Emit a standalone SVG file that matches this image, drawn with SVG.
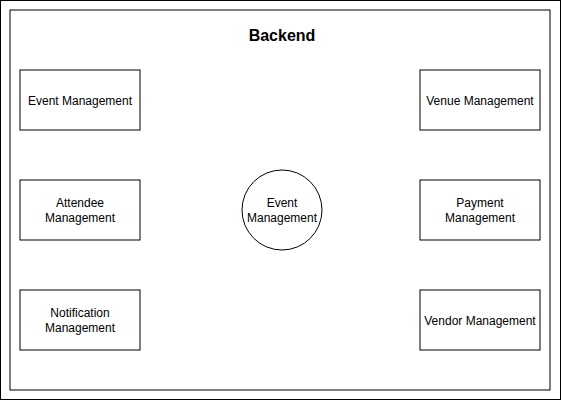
<svg xmlns="http://www.w3.org/2000/svg" width="561" height="401" viewBox="0 0 561 401">
<style>
.box{fill:#fff;stroke:#000;stroke-width:1}
.t{font-family:"Liberation Sans",Arial,sans-serif;font-size:12px;fill:#000;text-anchor:middle}
.title{font-family:"Liberation Sans",Arial,sans-serif;font-size:16px;font-weight:bold;fill:#000;text-anchor:middle}
</style>
<rect width="561" height="401" fill="#fff"/>
<g id="outer"><rect class="box" x="0.5" y="0.5" width="560" height="399"/></g>
<g id="backend"><rect class="box" x="10" y="10" width="540" height="380"/>
<text class="title" x="282" y="41">Backend</text></g>
<g id="connectors"></g>
<g id="event-mgmt"><rect class="box" x="20" y="70" width="120" height="60"/><text class="t" x="80" y="105">Event Management</text></g>
<g id="attendee-mgmt"><rect class="box" x="20" y="180" width="120" height="60"/><text class="t" x="80" y="207">Attendee</text><text class="t" x="80" y="222">Management</text></g>
<g id="notification-mgmt"><rect class="box" x="20" y="290" width="120" height="60"/><text class="t" x="80" y="317">Notification</text><text class="t" x="80" y="332">Management</text></g>
<g id="venue-mgmt"><rect class="box" x="420" y="70" width="120" height="60"/><text class="t" x="480" y="105">Venue Management</text></g>
<g id="payment-mgmt"><rect class="box" x="420" y="180" width="120" height="60"/><text class="t" x="480" y="207">Payment</text><text class="t" x="480" y="222">Management</text></g>
<g id="vendor-mgmt"><rect class="box" x="420" y="290" width="120" height="60"/><text class="t" x="480" y="325">Vendor Management</text></g>
<g id="event-center"><circle class="box" cx="282" cy="210" r="40"/><text class="t" x="282" y="207">Event</text><text class="t" x="282" y="222">Management</text></g>
</svg>
